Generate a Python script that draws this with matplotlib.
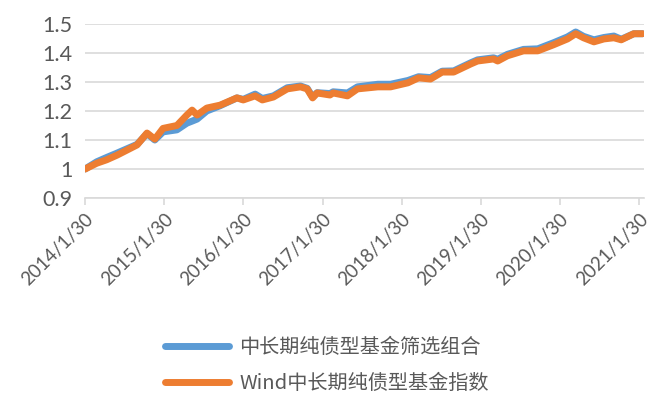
""" 中长期纯债型基金筛选组合 vs Wind指数 """
import matplotlib
matplotlib.use("Agg")
import matplotlib.pyplot as plt
import pandas as pd

dates = ['2014-01-30', '2014-03-25', '2014-05-10', '2014-06-27', '2014-09-27',
         '2014-11-12', '2014-12-18', '2015-01-25', '2015-03-30', '2015-05-15',
         '2015-06-08', '2015-07-01', '2015-08-15', '2015-10-15', '2016-01-01',
         '2016-01-30', '2016-03-25', '2016-04-27', '2016-06-17', '2016-08-20',
         '2016-10-20', '2016-11-20', '2016-12-15', '2017-01-05', '2017-03-05',
         '2017-03-20', '2017-05-25', '2017-07-10', '2017-10-12', '2017-12-10',
         '2018-02-28', '2018-04-18', '2018-06-12', '2018-08-05', '2018-09-27',
         '2018-12-15', '2019-01-15', '2019-03-30', '2019-04-18', '2019-06-02',
         '2019-08-15', '2019-10-20', '2020-01-01', '2020-03-05', '2020-04-12',
         '2020-05-18', '2020-07-05', '2020-08-20', '2020-10-05', '2020-11-08',
         '2021-01-05', '2021-02-15']
wind_index = [1.000, 1.020, 1.032, 1.048, 1.083, 1.124, 1.103, 1.140, 1.150, 1.186,
              1.203, 1.186, 1.210, 1.220, 1.245, 1.238, 1.252, 1.238, 1.248, 1.276,
              1.283, 1.276, 1.245, 1.262, 1.255, 1.262, 1.252, 1.276, 1.283, 1.283,
              1.297, 1.314, 1.310, 1.334, 1.334, 1.362, 1.372, 1.379, 1.372, 1.390,
              1.407, 1.407, 1.428, 1.448, 1.466, 1.452, 1.438, 1.448, 1.452, 1.445,
              1.466, 1.466]
portfolio = [1.000, 1.025, 1.040, 1.055, 1.085, 1.122, 1.100, 1.128, 1.135, 1.158,
             1.165, 1.172, 1.200, 1.218, 1.245, 1.240, 1.258, 1.243, 1.252, 1.280,
             1.286, 1.278, 1.248, 1.263, 1.260, 1.266, 1.262, 1.283, 1.292, 1.292,
             1.305, 1.318, 1.315, 1.337, 1.338, 1.366, 1.376, 1.383, 1.378, 1.395,
             1.412, 1.414, 1.435, 1.455, 1.472, 1.457, 1.445, 1.453, 1.458, 1.447,
             1.466, 1.466]
tick_dates = ['2014-01-30', '2015-01-30', '2016-01-30', '2017-01-30',
              '2018-01-30', '2019-01-30', '2020-01-30', '2021-01-30']
names = ['中长期纯债型基金筛选组合', 'Wind中长期纯债型基金指数']

x = pd.to_datetime(dates)
ticks = pd.to_datetime(tick_dates)

fig = plt.figure(figsize=(6.54, 4.11), dpi=100)
ax = fig.add_axes([0.13, 0.518, 0.855, 0.424])

ax.plot(x, portfolio, color='#5B9BD5', linewidth=5, solid_capstyle='round',
        label=names[0])
ax.plot(x, wind_index, color='#ED7D31', linewidth=5, solid_capstyle='round',
        label=names[1])

ax.set_ylim(0.9, 1.5)
ax.set_yticks([0.9, 1.0, 1.1, 1.2, 1.3, 1.4, 1.5])
ax.set_yticklabels(['0.9', '1', '1.1', '1.2', '1.3', '1.4', '1.5'])
ax.set_xlim(ticks[0], pd.Timestamp('2021-02-22'))
ax.set_xticks(ticks)
ax.set_xticklabels([t.strftime('%Y/%-m/%-d') for t in ticks], rotation=45,
                   ha='right', rotation_mode='anchor')

ax.grid(axis='y', color='#D9D9D9', linewidth=1.2)
ax.set_axisbelow(True)
for s in ['top', 'right', 'left']:
    ax.spines[s].set_visible(False)
ax.spines['bottom'].set_color('#D9D9D9')
ax.spines['bottom'].set_linewidth(1.2)
ax.tick_params(axis='y', length=0, pad=9, labelsize=15.5, labelcolor='#595959')
ax.tick_params(axis='x', length=5, color='#D9D9D9', width=1.2, pad=4,
               labelsize=13.5, labelcolor='#595959')
for lbl in ax.get_xticklabels() + ax.get_yticklabels():
    lbl.set_family('Lato')

leg = fig.legend(loc='center', bbox_to_anchor=(0.50, 0.11), frameon=False,
                 handlelength=3.2, handletextpad=0.5, labelspacing=0.75,
                 prop={'family': ['Noto Sans CJK SC', 'DejaVu Sans'], 'size': 14.5})
for t in leg.get_texts():
    t.set_color('#595959')

fig.savefig('out.png', dpi=100)
